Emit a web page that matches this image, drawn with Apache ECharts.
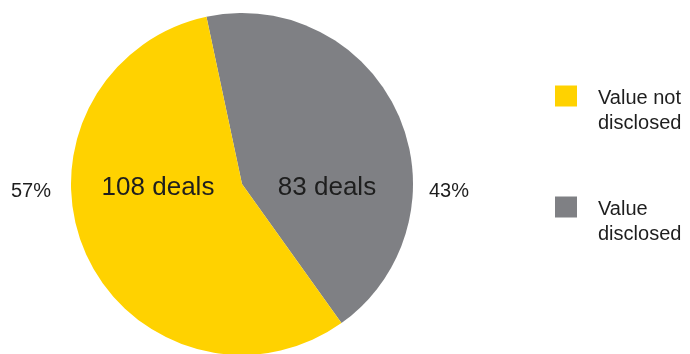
<!DOCTYPE html>
<html>
<head>
<meta charset="utf-8">
<script src="https://cdn.jsdelivr.net/npm/echarts@6/dist/echarts.min.js"></script>
<style>
  html, body { margin: 0; padding: 0; background: #fff; }
  #chart { width: 690px; height: 354px; }
</style>
</head>
<body>
<div id="chart"></div>
<script>
// Deal counts split by whether the deal value was disclosed
const categories = ['Value disclosed', 'Value not disclosed'];
const dealCounts = [83, 108];
const sliceColors = ['#7f8084', '#ffd200'];
const legendOrder = ['Value not disclosed', 'Value disclosed'];
const legendText = { 'Value not disclosed': 'Value not\ndisclosed', 'Value disclosed': 'Value\ndisclosed' };

const FONT = '"Liberation Sans", Arial, sans-serif';
const INK = '#1e1e1e';

const pieData = categories.map((name, i) => ({
  name,
  value: dealCounts[i],
  itemStyle: { color: sliceColors[i] }
}));

// fixed label anchors per slice (index 0 = disclosed, 1 = not disclosed)
const innerPos = [{ x: 327, y: 188 }, { x: 158, y: 188 }];
const outerPos = [{ x: 449, y: 191 }, { x: 31, y: 191 }];

const chart = echarts.init(document.getElementById('chart'), null, { renderer: 'canvas' });

function legendFor(name, top) {
  return {
    data: [name],
    orient: 'vertical',
    left: 555,
    top: top,
    padding: 0,
    itemWidth: 22,
    itemHeight: 21,
    icon: 'rect',
    selectedMode: false,
    // a blank leading line keeps the first text line level with the swatch
    formatter: n => '{s| }\n{t|' + legendText[n].split('\n').join('}\n{t|') + '}',
    textStyle: {
      fontFamily: FONT,
      fontSize: 20,
      color: INK,
      padding: [0, 0, 0, 16],
      rich: {
        s: { fontFamily: FONT, fontSize: 20, lineHeight: 29, color: INK },
        t: { fontFamily: FONT, fontSize: 20, lineHeight: 25, color: INK }
      }
    }
  };
}

const pieBase = {
  type: 'pie',
  center: [242, 184],
  radius: 171,
  startAngle: 102,
  clockwise: true,
  percentPrecision: 0,
  avoidLabelOverlap: false,
  silent: true
};

chart.setOption({
  animation: false,
  legend: [legendFor(legendOrder[0], 61), legendFor(legendOrder[1], 172)],
  series: [
    Object.assign({}, pieBase, {
      data: pieData,
      label: {
        show: true,
        position: 'inside',
        formatter: p => p.value + ' deals',
        fontFamily: FONT,
        fontSize: 26,
        color: INK
      },
      labelLine: { show: false },
      labelLayout: p => ({
        x: innerPos[p.dataIndex].x,
        y: innerPos[p.dataIndex].y,
        align: 'center',
        verticalAlign: 'middle'
      })
    }),
    Object.assign({}, pieBase, {
      // share labels beside the pie
      data: categories.map((name, i) => ({ name, value: dealCounts[i] })),
      itemStyle: { color: 'rgba(0,0,0,0)' },
      label: {
        show: true,
        position: 'outside',
        formatter: '{d}%',
        fontFamily: FONT,
        fontSize: 20,
        color: INK
      },
      labelLine: { show: false },
      labelLayout: p => ({
        x: outerPos[p.dataIndex].x,
        y: outerPos[p.dataIndex].y,
        align: 'center',
        verticalAlign: 'middle'
      })
    })
  ]
});
</script>
</body>
</html>
